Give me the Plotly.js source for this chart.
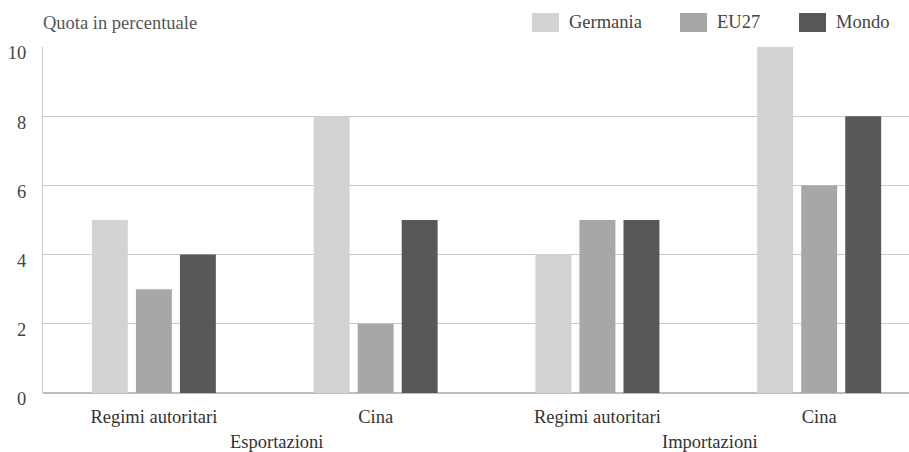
<!DOCTYPE html>
<html>
<head>
<meta charset="utf-8">
<script src="https://cdn.plot.ly/plotly-3.0.1.min.js"></script>
<style>html,body{margin:0;padding:0;background:#fff;}#chart{width:909px;height:452px;}</style>
</head>
<body>
<div id="chart"></div>
<script>
// Data
const categories = ["Regimi autoritari", "Cina", "Regimi autoritari", "Cina"];
const groups = ["Esportazioni", "Importazioni"];
const seriesNames = ["Germania", "EU27", "Mondo"];
const germania = [5, 8, 4, 10];
const eu27 = [3, 2, 5, 6];
const mondo = [4, 5, 5, 8];
const yTicks = [0, 2, 4, 6, 8, 10];

const colors = ["#d3d3d5", "#a7a7aa", "#58585a"];
const values = [germania, eu27, mondo];
const xPos = categories.map((c, i) => i);

const W = 909, H = 452;
const M = {l: 43, r: 0, t: 47, b: 59};
const pw = W - M.l - M.r, ph = H - M.t - M.b;
const px = x => (x - M.l) / pw;
const py = y => (H - M.b - y) / ph;

const traces = seriesNames.map((n, i) => ({
  type: 'bar', name: n, x: xPos, y: values[i],
  marker: {color: colors[i], line: {width: 0}},
  showlegend: false, hoverinfo: 'skip'
}));

const mkFont = (c) => ({family: 'Liberation Serif', size: 18.5, color: c || '#333'});

// Legend drawn manually
const legendX = [532, 680, 799];
const shapes = [];
const annotations = [];
seriesNames.forEach((n, i) => {
  shapes.push({type: 'rect', xref: 'paper', yref: 'paper',
    x0: px(legendX[i]), x1: px(legendX[i] + 27), y0: py(32), y1: py(13),
    fillcolor: colors[i], line: {width: 0}});
  annotations.push({xref: 'paper', yref: 'paper', x: px(legendX[i] + 35), y: py(22),
    xanchor: 'left', yanchor: 'middle', text: n, showarrow: false, font: mkFont('#444')});
});
annotations.push({xref: 'paper', yref: 'paper', x: px(41), y: py(23),
  xanchor: 'left', yanchor: 'middle', text: 'Quota in percentuale', showarrow: false, font: mkFont('#555')});
const groupX = [0.555, 2.508];
groups.forEach((g, i) => {
  annotations.push({xref: 'x', yref: 'paper', x: groupX[i], y: py(442),
    xanchor: 'center', yanchor: 'middle', text: g, showarrow: false, font: mkFont()});
});

const layout = {
  width: W, height: H,
  margin: M,
  paper_bgcolor: '#fff', plot_bgcolor: '#fff',
  font: mkFont(),
  barmode: 'group', bargap: 0.4045, bargroupgap: 0.184,
  xaxis: {
    range: [-0.5, 3.405], tickvals: xPos, ticktext: categories,
    showgrid: false, zeroline: false, showline: false,
    ticks: 'outside', ticklen: 7, tickcolor: 'rgba(0,0,0,0)',
    tickfont: mkFont(), fixedrange: true
  },
  yaxis: {
    range: [0, 10], tickvals: yTicks, ticktext: yTicks.map(String),
    showgrid: true, gridcolor: '#c8c8c8', gridwidth: 1,
    zeroline: true, zerolinecolor: '#bdbdbd', zerolinewidth: 1.5,
    showline: true, linecolor: '#c8c8c8', linewidth: 1,
    ticks: 'outside', ticklen: 12, tickcolor: 'rgba(0,0,0,0)',
    ticklabelshift: 6,
    tickfont: mkFont('#444'), fixedrange: true
  },
  shapes: shapes,
  annotations: annotations
};

Plotly.newPlot('chart', traces, layout, {staticPlot: true, displayModeBar: false});
</script>
</body>
</html>
